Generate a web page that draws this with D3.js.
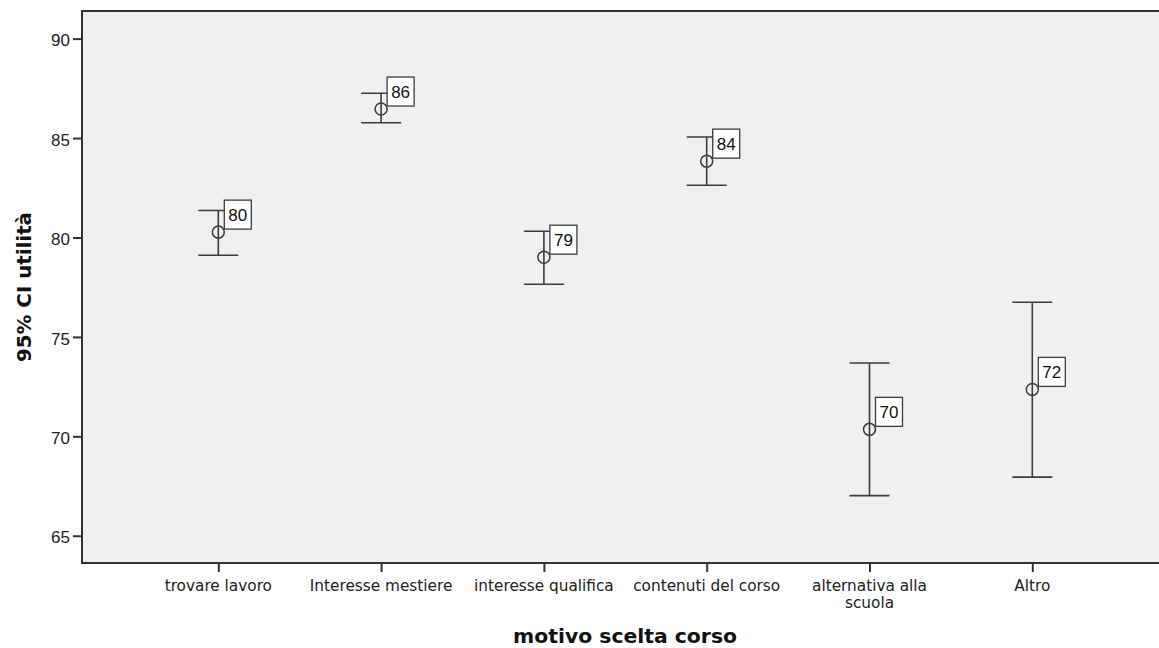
<!DOCTYPE html>
<html>
<head>
<meta charset="utf-8">
<script src="https://cdn.jsdelivr.net/npm/d3@7"></script>
<style>
  html, body { margin: 0; padding: 0; background: #fff; }
  svg { display: block; }
</style>
</head>
<body>
<svg id="chart" width="1159" height="648"></svg>
<script>
// ---- data ----
const categories = ["trovare lavoro", "Interesse mestiere", "interesse qualifica", "contenuti del corso", "alternativa alla scuola", "Altro"];
const categoryLines = [["trovare lavoro"], ["Interesse mestiere"], ["interesse qualifica"], ["contenuti del corso"], ["alternativa alla", "scuola"], ["Altro"]];
const means = [80.27, 86.46, 79.01, 83.84, 70.35, 72.36];
const upperCI = [81.36, 87.25, 80.31, 85.05, 73.69, 76.74];
const lowerCI = [79.11, 85.77, 77.65, 82.63, 67.02, 67.95];
const yTicks = [65, 70, 75, 80, 85, 90];
const yTitle = "95% CI utilità";
const xTitle = "motivo scelta corso";

// ---- layout ----
const W = 1159, H = 648;
const plot = { left: 82, right: 1159, top: 11, bottom: 563 };
const svg = d3.select("#chart");

const y = d3.scaleLinear().domain([63.63, 91.39]).range([plot.bottom, plot.top]);
const firstCenter = plot.left + 136.3, step = 162.8;
const x = d3.scalePoint().domain(categories)
  .range([firstCenter, firstCenter + step * (categories.length - 1)]);

const data = categories.map((c, i) => ({ c, lines: categoryLines[i], mean: means[i], hi: upperCI[i], lo: lowerCI[i] }));

const axisColor = "#333333";
const markColor = "#3c3c3c";

// background
svg.append("rect")
  .attr("x", plot.left).attr("y", plot.top)
  .attr("width", plot.right - plot.left).attr("height", plot.bottom - plot.top)
  .attr("fill", "#f0f0f0");

// top border
svg.append("line")
  .attr("x1", plot.left).attr("x2", plot.right)
  .attr("y1", plot.top).attr("y2", plot.top)
  .attr("stroke", axisColor).attr("stroke-width", 2);

// y axis
const yAxis = svg.append("g").attr("transform", `translate(${plot.left},0)`)
  .call(d3.axisLeft(y).tickValues(yTicks).tickSize(9).tickPadding(3).tickFormat(d3.format("d")));
yAxis.select(".domain").remove();
yAxis.selectAll(".tick line").attr("stroke", axisColor).attr("stroke-width", 2);
yAxis.selectAll(".tick text")
  .attr("font-family", "'Liberation Sans', Arial, sans-serif")
  .attr("font-size", 17).attr("fill", "#222").attr("dy", "0.42em");
svg.append("line")
  .attr("x1", plot.left).attr("x2", plot.left)
  .attr("y1", plot.top - 1).attr("y2", plot.bottom + 1)
  .attr("stroke", axisColor).attr("stroke-width", 2);

// x axis
const xAxis = svg.append("g").attr("transform", `translate(0,${plot.bottom})`)
  .call(d3.axisBottom(x).tickSize(9).tickFormat(""));
xAxis.select(".domain").remove();
xAxis.selectAll(".tick line").attr("stroke", axisColor).attr("stroke-width", 2);
svg.append("line")
  .attr("x1", plot.left - 1).attr("x2", plot.right)
  .attr("y1", plot.bottom).attr("y2", plot.bottom)
  .attr("stroke", axisColor).attr("stroke-width", 2);

// category labels
const catLabels = svg.append("g").selectAll("text").data(data).join("text")
  .attr("text-anchor", "middle")
  .attr("font-family", "'DejaVu Sans', sans-serif")
  .attr("font-size", 15.3).attr("fill", "#222");
catLabels.each(function (d) {
  const t = d3.select(this);
  d.lines.forEach((ln, k) => {
    t.append("tspan").attr("x", x(d.c)).attr("y", 591 + k * 17).text(ln);
  });
});

// error bars
const capHalf = 20;
const bars = svg.append("g").selectAll("g").data(data).join("g");
bars.append("line")
  .attr("x1", d => x(d.c)).attr("x2", d => x(d.c))
  .attr("y1", d => y(d.hi)).attr("y2", d => y(d.lo))
  .attr("stroke", markColor).attr("stroke-width", 1.6);
bars.append("line")
  .attr("x1", d => x(d.c) - capHalf).attr("x2", d => x(d.c) + capHalf)
  .attr("y1", d => y(d.hi)).attr("y2", d => y(d.hi))
  .attr("stroke", markColor).attr("stroke-width", 1.6);
bars.append("line")
  .attr("x1", d => x(d.c) - capHalf).attr("x2", d => x(d.c) + capHalf)
  .attr("y1", d => y(d.lo)).attr("y2", d => y(d.lo))
  .attr("stroke", markColor).attr("stroke-width", 1.6);
bars.append("circle")
  .attr("cx", d => x(d.c)).attr("cy", d => y(d.mean)).attr("r", 6)
  .attr("fill", "none").attr("stroke", markColor).attr("stroke-width", 1.5);

// value labels
const boxW = 27, boxH = 29;
bars.append("rect")
  .attr("x", d => x(d.c) + 6).attr("y", d => y(d.mean) - 3 - boxH)
  .attr("width", boxW).attr("height", boxH)
  .attr("fill", "#ffffff").attr("stroke", markColor).attr("stroke-width", 1.3);
bars.append("text")
  .attr("x", d => x(d.c) + 6 + boxW / 2).attr("y", d => y(d.mean) - 3 - boxH / 2)
  .attr("dy", "0.36em").attr("text-anchor", "middle")
  .attr("font-family", "'Liberation Sans', Arial, sans-serif")
  .attr("font-size", 17).attr("fill", "#111")
  .text(d => d3.format(".0f")(d.mean));

// axis titles
svg.append("text")
  .attr("transform", `translate(31,${(212 + 362) / 2}) rotate(-90)`)
  .attr("text-anchor", "middle")
  .attr("font-family", "'DejaVu Sans', sans-serif").attr("font-weight", "bold")
  .attr("font-size", 19).attr("fill", "#111")
  .attr("textLength", 150).attr("lengthAdjust", "spacingAndGlyphs")
  .text(yTitle);
svg.append("text")
  .attr("x", 625).attr("y", 643)
  .attr("text-anchor", "middle")
  .attr("font-family", "'DejaVu Sans', sans-serif").attr("font-weight", "bold")
  .attr("font-size", 19).attr("fill", "#111")
  .attr("textLength", 224).attr("lengthAdjust", "spacingAndGlyphs")
  .text(xTitle);
</script>
</body>
</html>
